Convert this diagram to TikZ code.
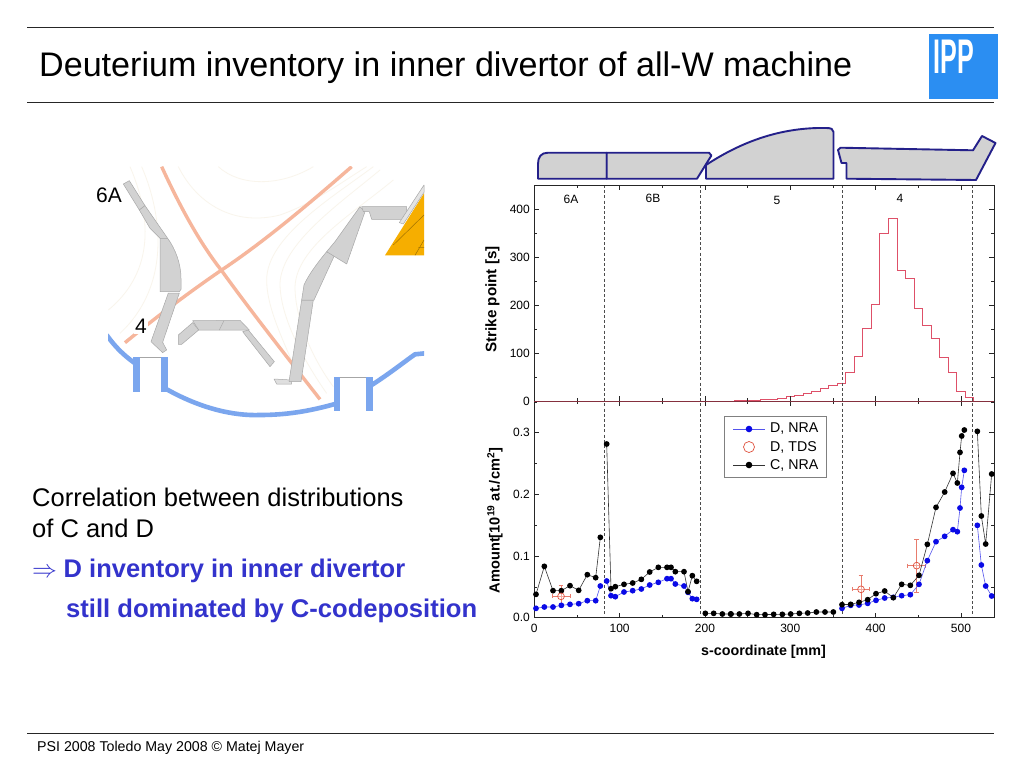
\documentclass[tikz,border=0pt]{standalone}
\usepackage{fontspec}
\setmainfont{Liberation Sans}
\definecolor{tile}{HTML}{D2D2D2}
\definecolor{tileedge}{HTML}{A8A8A8}
\definecolor{navy}{HTML}{24208A}
\definecolor{salmon}{HTML}{F6B69C}
\definecolor{flux}{HTML}{F9F5EC}
\definecolor{wall}{HTML}{7BA6EE}
\definecolor{orangeb}{HTML}{F6AE00}
\definecolor{logoblue}{HTML}{2B8EF2}
\definecolor{histo}{HTML}{DE5068}
\definecolor{dblue}{HTML}{0A0AE6}
\definecolor{tds}{HTML}{E0503C}
\definecolor{txtblue}{HTML}{3333CC}
\newcommand{\fsz}[1]{\fontsize{#1}{#1}\selectfont}
\tikzset{
  rule/.style={line width=1pt,black!85},
  ttile/.style={draw=navy,fill=tile,line width=1.9pt,line join=round},
  gtile/.style={draw=tileedge,fill=tile,line width=.5pt,line join=round},
  fluxl/.style={draw=flux,line width=.8pt},
  wallv/.style={fill=wall,draw=none},
  walll/.style={draw=wall,line width=4.6pt},
  sep/.style={draw=black!70,line width=.6pt,dash pattern=on 3pt off 2.2pt},
  axisl/.style={draw=black!85,line width=.8pt},
  tick/.style={draw=black!85,line width=.6pt},
  tlab/.style={font=\fsz{12},inner sep=0pt},
  atitle/.style={font=\fsz{14.6}\bfseries,inner sep=0pt},
  bdot/.style={fill=dblue,draw=none},
  kdot/.style={fill=black,draw=none},
  bline/.style={draw=dblue!70,line width=.6pt},
  kline/.style={draw=black!80,line width=.6pt},
  errl/.style={draw=tds!75,line width=.6pt},
  ocirc/.style={draw=tds,fill=white,fill opacity=.35,line width=.7pt},
}
\begin{document}
\begin{tikzpicture}[x=1pt,y=-1pt]
\useasboundingbox (0,0) rectangle (1024,768);
\fill[white] (0,0) rectangle (1024,768);
% header
\draw[rule] (27,27.5) -- (994,27.5);
\draw[rule] (27,102.5) -- (994,102.5);
\node[anchor=base west,inner sep=0pt,font=\fsz{34.1}] (title) at (39,76) {Deuterium inventory in inner divertor of all-W machine};
\fill[logoblue] (929,34) rectangle (998,99);
\node[inner sep=0pt,text=white,font=\fsz{38}\bfseries,xscale=.66,yscale=1.28,transform shape] (logo) at (953.5,57) {IPP};
% footer
\draw[rule] (27,733) -- (994,733);
\node[anchor=base west,inner sep=0pt,font=\fsz{14.2}] (foot) at (37,751.5) {PSI 2008 Toledo May 2008 © Matej Mayer};
% left text
\node[anchor=base west,inner sep=0pt,font=\fsz{25.5}] (t1) at (32,506.5) {Correlation between distributions};
\node[anchor=base west,inner sep=0pt,font=\fsz{25.5}] (t2) at (32,537.5) {of C and D};
\node[anchor=base west,inner sep=0pt,font=\fsz{25.5},text=txtblue] (t3a) at (32,577.5) {$\Rightarrow$};
\node[anchor=base west,inner sep=0pt,font=\fsz{25.5}\bfseries,text=txtblue] (t3) at (63.5,577.5) {D inventory in inner divertor};
\node[anchor=base west,inner sep=0pt,font=\fsz{25.6}\bfseries,text=txtblue] (t4) at (66,617.5) {still dominated by C-codeposition};
% cut-away
\begin{scope}[shift={(100,160)},x=.33333pt,y=-.33333pt]
 \begin{scope}
 \clip (24,18) rectangle (972,770);
 % flux surfaces
 \draw[fluxl] (90,20) .. controls (150,160) and (170,330) .. (25,450);
 \draw[fluxl] (125,20) .. controls (190,170) and (210,380) .. (60,520);
 \draw[fluxl] (235,20) .. controls (290,130) and (400,200) .. (540,165) .. controls (640,130) and (720,70) .. (800,20);
 \draw[fluxl] (355,20) .. controls (420,80) and (540,80) .. (640,20);
 \draw[fluxl] (820,20) .. controls (700,110) and (500,230) .. (500,360) .. controls (500,450) and (560,560) .. (590,640);
 \draw[fluxl] (840,30) .. controls (720,130) and (545,250) .. (540,370) .. controls (540,470) and (610,600) .. (680,700);
 \draw[fluxl] (880,60) .. controls (760,160) and (590,260) .. (585,380) .. controls (585,480) and (640,600) .. (700,680);
 % separatrix
 \draw[salmon,line width=3.4pt] (185,20) .. controls (240,140) and (300,250) .. (365,332) .. controls (450,450) and (560,590) .. (660,718);
 \draw[salmon,line width=3.4pt] (75,548) .. controls (170,470) and (270,395) .. (365,330) .. controls (500,240) and (640,120) .. (755,20);
 \end{scope}
 % inner tiles
 \draw[gtile] (70,72) -- (88,62) -- (135,137) -- (118,150) -- cycle;
 \draw[gtile] (118,150) -- (135,137) -- (203,235) -- (180,235) -- (150,205) -- cycle;
 \draw[gtile] (180,235) -- (203,235) .. controls (225,265) and (243,310) .. (243,355) -- (243,388) -- (238,395) -- (180,395) -- cycle;
 \draw[gtile] (205,399) -- (238,399) -- (188,547) -- (200,570) -- (188,578) -- (153,545) -- cycle;
 % dome
 \draw[gtile] (278,482) -- (420,481) -- (448,510) -- (296,510) -- cycle;
 \draw[gtile] (372,482) -- (358,510);
 \draw[gtile] (278,488) -- (296,510) -- (245,553) -- (235,553) -- (235,525) -- cycle;
 \draw[gtile] (428,515) -- (445,510) -- (523,605) -- (510,620) -- cycle;
 % outer tiles
 \draw[gtile,fill=tile!70] (522,657) -- (575,660) -- (575,672) -- (530,672) -- cycle;
 \draw[gtile] (605,420) -- (640,420) -- (603,665) -- (567,665) -- cycle;
 \draw[gtile] (680,275) -- (703,287) -- (642,420) -- (605,420) -- (612,375) .. controls (625,345) and (655,305) .. (680,275);
 \draw[gtile] (780,140) -- (795,155) -- (740,312) -- (680,275) -- (705,245) -- cycle;
 \draw[gtile] (785,140) -- (920,140) -- (918,178) -- (815,178) -- (808,155) -- (790,155) -- cycle;
 % orange
 \fill[orangeb] (855,286) -- (972,100) -- (972,286) -- cycle;
 \draw[black!35!orangeb,line width=.5pt] (880,255) -- (972,165) (945,286) -- (972,240) (972,262) -- (955,262);
 \draw[gtile,fill=tile!60] (898,188) -- (972,75) -- (972,97) -- (910,192) -- cycle;
 % vessel
 \draw[black!35,line width=.5pt] (120,592.5) -- (183,592.5) (721,650.5) -- (799,650.5);
 \begin{scope}
 \clip (24,18) rectangle (972,775);
 \draw[walll] (20,525) .. controls (45,560) and (70,585) .. (105,610);
 \draw[walll] (195,685) .. controls (300,745) and (400,768) .. (480,765) .. controls (570,765) and (640,750) .. (705,732);
 \draw[walll] (815,675) .. controls (870,640) and (920,600) .. (945,583) -- (975,580);
 \end{scope}
 \fill[wallv] (100,592) rectangle (120,696);
 \fill[wallv] (183,592) rectangle (203,696);
 \fill[wallv] (701,650) rectangle (721,752);
 \fill[wallv] (799,650) rectangle (819,752);
\end{scope}
\node[inner sep=0pt,font=\fsz{21}] (l6a) at (109,195) {6A};
\node[fill=white,inner sep=1.2pt,font=\fsz{21}] (l4) at (141,326) {4};
% tile strip
\draw[ttile] (538,178.7) -- (538,164) .. controls (538,157) and (541,152.7) .. (548,152.7) -- (606.7,152.7) -- (606.7,178.7) -- cycle;
\draw[ttile] (606.7,152.7) -- (709,152.7) -- (711.4,155.5) -- (697,178.7) -- (606.7,178.7) -- cycle;
\draw[ttile] (706,178.7) -- (706,165) .. controls (735,146) and (775,127) .. (826,128) .. controls (831,128) and (833.5,129) .. (833.5,132) -- (833.5,178.7) -- cycle;
\draw[ttile] (838,150) -- (840.5,147.7) -- (973,150.3) -- (982,136) -- (995.5,143) -- (976,180) -- (846.5,178.7) -- (846.5,163) -- (841.5,163) -- cycle;
% upper plot
\begin{scope}[shift={(534.3,401.3)},x=.8533pt,y=.48pt]
 \draw[histo,line width=.9pt] (0,0) -- (225,0) -| (235,1) -| (245,1.5) -| (255,2) -| (265,3) -| (275,4) -| (285,6) -| (295,10) -| (305,12) -| (315,17) -| (325,21.5) -| (335,26) -| (345,32) -| (355,37.5) -| (365,60) -| (375,94) -| (385,151) -| (395,201) -| (405,350) -| (415,380) -| (425,272) -| (435,256) -| (445,194) -| (455,158) -| (465,130) -| (475,92) -| (485,60) -| (495,21) -| (505,9) -| (515,0) -- (539,0);
 \foreach \v in {0,100,...,400}{\draw[tick] (0,\v) -- ++(5pt,0pt); \draw[tick] (539,\v) -- ++(-5pt,0pt);}
 \foreach \v in {50,150,...,350,450}{\draw[tick] (0,\v) -- ++(3pt,0pt); \draw[tick] (539,\v) -- ++(-3pt,0pt);}
 \foreach \v in {0,100,...,500}{\draw[tick] (\v,0) -- ++(0pt,5pt); \draw[tick] (\v,450.6) -- ++(0pt,-5pt);}
 \foreach \v in {50,150,...,450}{\draw[tick] (\v,0) -- ++(0pt,3pt); \draw[tick] (\v,450.6) -- ++(0pt,-3pt);}
 \foreach \v in {0,100,...,400}{\node[tlab,anchor=east] at (-5,\v) {\v};}
\end{scope}
% lower plot
\begin{scope}[shift={(534.3,617.7)},x=.8533pt,y=616.7pt]
 \foreach \v/\l in {0/0.0,.1/0.1,.2/0.2,.3/0.3}{\node[tlab,anchor=east] at (-5,\v) {\l}; \draw[tick] (0,\v) -- ++(5pt,0pt); \draw[tick] (539,\v) -- ++(-5pt,0pt);}
 \foreach \v in {.05,.15,.25,.35}{\draw[tick] (0,\v) -- ++(3pt,0pt); \draw[tick] (539,\v) -- ++(-3pt,0pt);}
 \foreach \v in {0,100,...,500}{\draw[tick] (\v,0) -- ++(0pt,5pt); \draw[tick] (\v,.3507) -- ++(0pt,-5pt); \node[tlab] at (\v,0) [yshift=-11pt] {\v};}
 \foreach \v in {50,150,...,450}{\draw[tick] (\v,0) -- ++(0pt,3pt); \draw[tick] (\v,.3507) -- ++(0pt,-3pt);}
\end{scope}
% separators
\foreach \x in {604.3,700.3,842,972.7}{\draw[sep] (\x,185) -- (\x,617.7);}
% frames
\draw[axisl] (534.3,185) rectangle (994.3,617.7);
\draw[histo!60!black,line width=.8pt] (534.3,401.3) -- (994.3,401.3);
% region labels
\node[tlab] (r6a) at (571,199) {6A};
\node[tlab] (r6b) at (653,198) {6B};
\node[tlab] (r5) at (777,200) {5};
\node[tlab] (r4) at (900,198.5) {4};
% axis titles
\node[atitle,rotate=90,font=\fsz{15.2}\bfseries] (yt1) at (492.5,299.5) {Strike point [s]};
\node[atitle,rotate=90] (yt2) at (495,520.5) {Amount[10\textsuperscript{19} at./cm\textsuperscript{2}]};
\node[atitle,font=\fsz{14.3}\bfseries] (xt) at (763.5,652) {s-coordinate [mm]};
% data, left half
\begin{scope}[shift={(480,405)},x=.33333pt,y=-.33333pt]
 \draw[errl] (217,574) -- (270,574) (217,568) -- (217,580) (270,568) -- (270,580) (243,540) -- (243,607) (236,540) -- (250,540);
 \draw[bline] plot coordinates {(168,610) (193,606) (219,606) (244,601) (270,598) (296,596) (322,587) (347,587) (361,543)};
 \draw[bline] plot coordinates {(380,528) (393,572) (406,575) (432,561) (458,557) (484,552) (509,540) (535,532) (561,521) (573,521) (586,537) (612,543) (624,562) (637,581) (650,583)};
 \draw[kline] plot coordinates {(168,568) (193,484) (219,557) (244,557) (270,542) (296,556) (322,509) (347,518) (361,397)};
 \draw[kline] plot coordinates {(380,117) (393,551) (406,545) (432,538) (458,534) (484,523) (509,501) (535,487) (561,487) (573,487) (586,500) (612,500) (624,560) (637,512) (650,529)};
 \draw[kline] plot coordinates {(676,625) (701,625) (727,627) (752,627)};
 \foreach \p in {(168,610),(193,606),(219,606),(244,601),(270,598),(296,596),(322,587),(347,587),(361,543),(380,528),(393,572),(406,575),(432,561),(458,557),(484,552),(509,540),(535,532),(561,521),(573,521),(586,537),(612,543),(624,562),(637,581),(650,583)}{\fill[bdot] \p circle[radius=2.9pt];}
 \foreach \p in {(168,568),(193,484),(219,557),(244,557),(270,542),(296,556),(322,509),(347,518),(361,397),(380,117),(393,551),(406,545),(432,538),(458,534),(484,523),(509,501),(535,487),(561,487),(573,487),(586,500),(612,500),(624,560),(637,512),(650,529),(676,625),(701,625),(727,627),(752,627)}{\fill[kdot] \p circle[radius=2.9pt];}
 \draw[ocirc] (243,574) circle[radius=3.4pt];
\end{scope}
% data, right half
\begin{scope}[shift={(730,405)},x=.33333pt,y=-.33333pt]
 \draw[errl] (366,553) -- (419,553) (366,547) -- (366,559) (419,547) -- (419,559) (393,510) -- (393,595) (386,510) -- (400,510);
 \draw[errl] (533,482) -- (587,482) (533,476) -- (533,488) (587,476) -- (587,488) (560,403) -- (560,562) (553,403) -- (567,403) (553,562) -- (567,562);
 \draw[bline] plot coordinates {(336,610) (362,601) (387,600) (413,595) (438,586) (464,579) (490,577) (515,572) (541,569) (567,538) (592,467) (618,410) (644,394) (669,374) (682,380) (690,309) (695,247) (703,196)};
 \draw[bline] plot coordinates {(742,361) (754,480) (767,543) (785,573)};
 \draw[kline] plot coordinates {(3,627) (28,627) (54,625) (80,629) (105,629) (131,628) (157,628) (182,627) (208,625) (233,624) (259,621) (285,621) (310,621)};
 \draw[kline] plot coordinates {(336,599) (362,598) (387,592) (413,584) (438,566) (464,558) (490,578) (515,538) (541,541) (567,511) (592,418) (618,307) (644,261) (669,205) (682,234) (690,142) (695,93) (703,75)};
 \draw[kline] plot coordinates {(742,79) (754,333) (767,417) (785,207)};
 \foreach \p in {(336,610),(362,601),(387,600),(413,595),(438,586),(464,579),(490,577),(515,572),(541,569),(567,538),(592,467),(618,410),(644,394),(669,374),(682,380),(690,309),(695,247),(703,196),(742,361),(754,480),(767,543),(785,573)}{\fill[bdot] \p circle[radius=2.9pt];}
 \foreach \p in {(3,627),(28,627),(54,625),(80,629),(105,629),(131,628),(157,628),(182,627),(208,625),(233,624),(259,621),(285,621),(310,621),(336,599),(362,598),(387,592),(413,584),(438,566),(464,558),(490,578),(515,538),(541,541),(567,511),(592,418),(618,307),(644,261),(669,205),(682,234),(690,142),(695,93),(703,75),(742,79),(754,333),(767,417),(785,207)}{\fill[kdot] \p circle[radius=2.9pt];}
 \draw[ocirc] (393,553) circle[radius=3.4pt];
 \draw[ocirc] (560,482) circle[radius=3.4pt];
\end{scope}
% legend
\draw[black!50,fill=white,line width=.8pt] (724.3,416) rectangle (826.3,477.7);
\draw[bline] (733,429) -- (765,429);
\fill[bdot] (749,429) circle[radius=3.3pt];
\draw[tds,line width=.7pt] (749,447) circle[radius=5.5pt];
\draw[kline] (733,465) -- (765,465);
\fill[kdot] (749,465) circle[radius=3.3pt];
\node[anchor=west,inner sep=0pt,font=\fsz{14.2}] (ld1) at (770,429) {D, NRA};
\node[anchor=west,inner sep=0pt,font=\fsz{14.2}] (ld2) at (770,447) {D, TDS};
\node[anchor=west,inner sep=0pt,font=\fsz{14.2}] (ld3) at (770,465) {C, NRA};
\end{tikzpicture}
\end{document}
